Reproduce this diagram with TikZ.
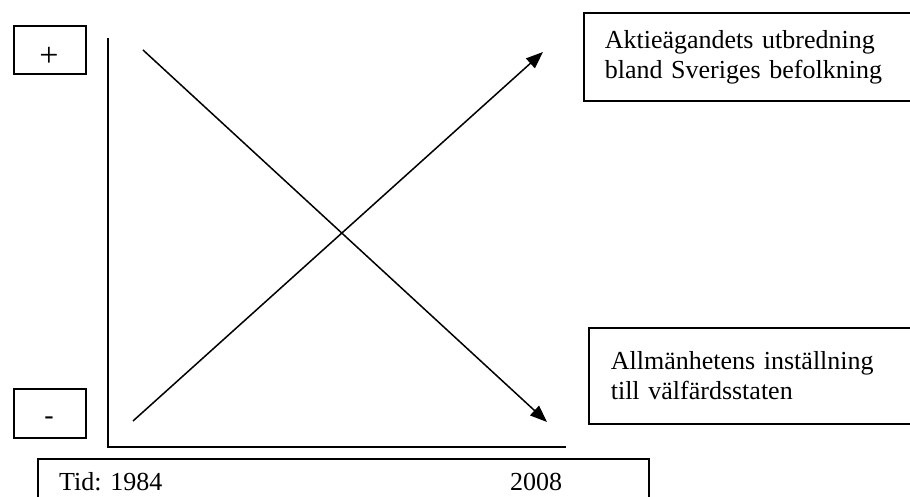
\documentclass[tikz,border=0pt]{standalone}
\usepackage{fontspec}
\setmainfont{Liberation Serif}
\usetikzlibrary{arrows.meta}
\begin{document}
\begin{tikzpicture}[x=1pt,y=-1pt,
  lbl/.style={font=\fontsize{26}{30}\selectfont, inner sep=0pt},
  boxline/.style={draw, line width=1.6pt},
  smallbox/.style={boxline, minimum width=72pt, minimum height=48pt, inner sep=0pt, anchor=north west},
  bigbox/.style={boxline, anchor=north west, inner xsep=21pt, inner ysep=0pt, align=left, text width=310pt, font=\fontsize{26}{30}\selectfont},
  axisline/.style={line width=1.8pt},
  trend/.style={line width=1.5pt, -{Triangle[length=17pt,width=13pt]}}
]
\useasboundingbox (0,0) rectangle (910,497);
\clip (0,0) rectangle (910,497);
% level boxes
\node[smallbox] (plus) at (13,25) {};
\node[inner sep=0pt, font=\fontsize{34}{34}\selectfont] (plustxt) at (49,57) {+};
\node[smallbox, minimum height=49pt] (minus) at (13,388) {};
\node[inner sep=0pt, font=\fontsize{28}{30}\selectfont] (minustxt) at (49,421) {-};
% axes
\coordinate (ytop) at (108,38);
\coordinate (orig) at (108,447);
\coordinate (xend) at (566,447);
\draw[axisline] (ytop) -- (orig) -- (xend);
% trend lines
\coordinate (upS) at (133,421);
\coordinate (upE) at (543,52);
\coordinate (dnS) at (143,50);
\coordinate (dnE) at (547,422);
\draw[trend] (upS) -- (upE);
\draw[trend] (dnS) -- (dnE);
% label boxes
\node[bigbox, minimum height=88pt] (aktie) at (583,12) {Aktieägandets utbredning\\bland Sveriges befolkning};
\node[bigbox, minimum height=96pt, inner xsep=22pt] (allm) at (588,327) {Allmänhetens inställning\\till välfärdsstaten};
% time box
\node[boxline, anchor=north west, minimum width=611pt, minimum height=60pt, inner sep=0pt] (tid) at (37,458) {};
\node[lbl, anchor=base west] (t1984) at (59,490) {Tid: 1984};
\node[lbl, anchor=base west] (t2008) at (510,490) {2008};
\end{tikzpicture}
\end{document}
